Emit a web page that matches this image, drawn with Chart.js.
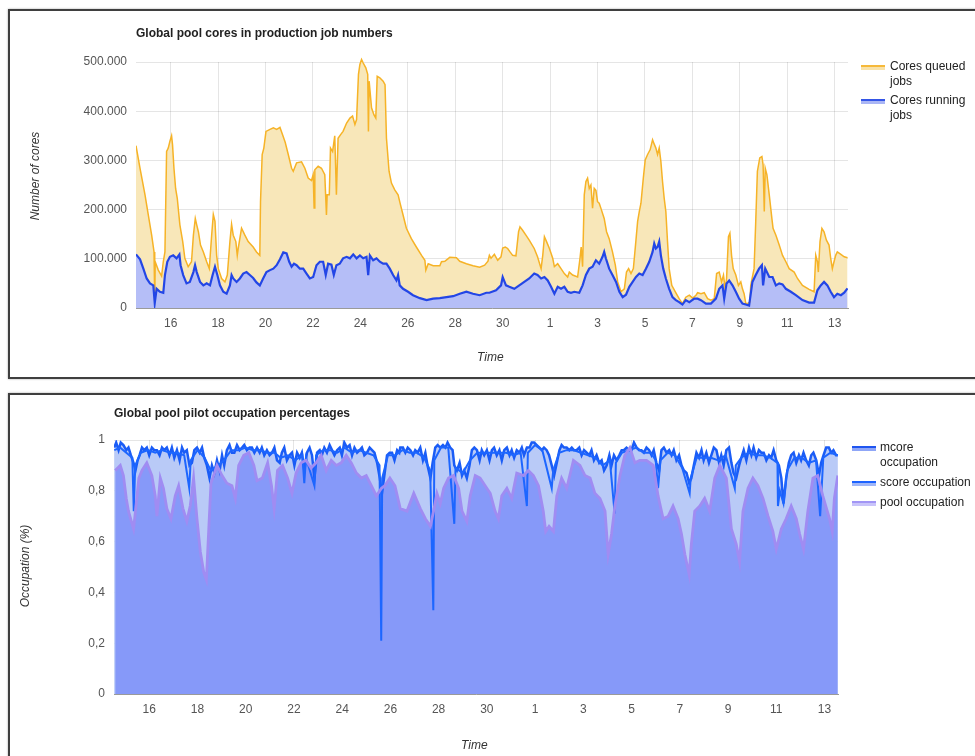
<!DOCTYPE html>
<html>
<head>
<meta charset="utf-8">
<script src="https://cdn.jsdelivr.net/npm/chart.js@4.4.0/dist/chart.umd.min.js"></script>
<style>
  body { margin: 0; width: 975px; height: 756px; overflow: hidden; background: #fff;
         font-family: Arial, "Liberation Sans", sans-serif; position: relative; }
  .panel { position: absolute; border: 2px solid #3f3f3f; box-shadow: 0 0 2px rgba(0,0,0,0.35); }
  canvas { position: absolute; }
  .txt { position: absolute; font-size: 12px; color: #222; white-space: nowrap; line-height: 15px; }
  .title { font-weight: bold; color: #222; }
  .axis { font-style: italic; color: #333; }
  .vert { transform: translate(-50%, -50%) rotate(-90deg); }
  .swatch { position: absolute; width: 24px; height: 3px; }
</style>
</head>
<body>
<div class="panel" style="left:8px; top:9px; width:1000px; height:366px;"></div>
<div class="panel" style="left:8px; top:393px; width:1000px; height:400px;"></div>

<canvas id="coresChart" width="960" height="366" style="left:10px; top:11px;"></canvas>
<canvas id="occChart" width="960" height="361" style="left:10px; top:395px;"></canvas>

<div class="txt title" style="left:136px; top:26px;">Global pool cores in production job numbers</div>
<div class="txt axis vert" style="left:35px; top:176px;">Number of cores</div>
<div class="txt axis" style="left:477px; top:350px;">Time</div>
<div class="swatch" style="left:861px; top:65px; border-top:2px solid #f6b93a; background:#f9e2a8;"></div>
<div class="txt" style="left:890px; top:59px;">Cores queued<br>jobs</div>
<div class="swatch" style="left:861px; top:99px; border-top:2px solid #3455e6; background:#aab6f5;"></div>
<div class="txt" style="left:890px; top:93px;">Cores running<br>jobs</div>

<div class="txt title" style="left:114px; top:406px;">Global pool pilot occupation percentages</div>
<div class="txt axis vert" style="left:25px; top:566px;">Occupation (%)</div>
<div class="txt axis" style="left:461px; top:738px;">Time</div>
<div class="swatch" style="left:852px; top:446px; border-top:2px solid #1f55f0; background:#8fa6f7;"></div>
<div class="txt" style="left:880px; top:440px;">mcore<br>occupation</div>
<div class="swatch" style="left:852px; top:481px; border-top:2px solid #1d63ff; background:#9fb6f8;"></div>
<div class="txt" style="left:880px; top:475px;">score occupation</div>
<div class="swatch" style="left:852px; top:501px; border-top:2px solid #a296f5; background:#c9c4fa;"></div>
<div class="txt" style="left:880px; top:495px;">pool occupation</div>

<script>
// x values are days counted from the 1st of the first month (32 = the 1st of the next one)
const dayTicks = [16, 18, 20, 22, 24, 26, 28, 30, 32, 34, 36, 38, 40, 42, 44];
const dayTickLabels = ['16', '18', '20', '22', '24', '26', '28', '30', '1', '3', '5', '7', '9', '11', '13'];

const coreTicks = [0, 100000, 200000, 300000, 400000, 500000];
const coreTickLabels = ['0', '100.000', '200.000', '300.000', '400.000', '500.000'];
const occTicks = [0, 0.2, 0.4, 0.6, 0.8, 1];
const occTickLabels = ['0', '0,2', '0,4', '0,6', '0,8', '1'];

const queuedDays = [14.54,14.71,14.92,15.06,15.20,15.30,15.33,15.35,15.48,15.62,15.69,15.76,15.83,15.90,15.97,16.04,16.08,16.14,16.21,16.28,16.39,16.51,16.60,16.74,16.88,16.96,17.04,17.10,17.17,17.26,17.38,17.52,17.63,17.73,17.80,17.87,17.94,18.01,18.15,18.29,18.39,18.50,18.57,18.64,18.75,18.81,18.85,18.99,19.13,19.27,19.48,19.62,19.76,19.79,19.86,19.93,20.02,20.19,20.33,20.47,20.61,20.72,20.83,20.96,21.10,21.17,21.31,21.52,21.66,21.80,21.94,22.01,22.05,22.08,22.22,22.36,22.50,22.57,22.60,22.69,22.74,22.83,22.92,22.99,23.06,23.16,23.27,23.42,23.56,23.67,23.77,23.84,23.92,23.98,24.05,24.12,24.23,24.31,24.34,24.37,24.47,24.57,24.65,24.71,24.82,24.96,25.04,25.10,25.21,25.31,25.45,25.59,25.69,25.80,25.94,26.15,26.36,26.58,26.72,26.76,26.86,27.07,27.35,27.42,27.56,27.77,28.05,28.19,28.47,28.75,29.03,29.24,29.38,29.44,29.51,29.65,29.79,29.93,30.00,30.11,30.21,30.31,30.42,30.56,30.67,30.73,30.84,30.98,31.12,31.33,31.47,31.62,31.69,31.76,31.85,31.97,32.11,32.18,32.32,32.46,32.60,32.74,32.81,32.95,33.16,33.26,33.31,33.37,33.44,33.51,33.58,33.65,33.72,33.79,33.86,33.93,34.00,34.07,34.14,34.28,34.38,34.49,34.63,34.75,34.85,34.99,35.13,35.22,35.31,35.41,35.51,35.62,35.69,35.76,35.83,35.93,36.01,36.11,36.22,36.32,36.39,36.46,36.53,36.60,36.67,36.74,36.81,36.88,36.95,37.02,37.13,37.28,37.44,37.58,37.72,37.87,38.01,38.15,38.22,38.36,38.50,38.64,38.78,38.92,39.02,39.13,39.23,39.31,39.38,39.44,39.52,39.58,39.65,39.72,39.83,39.94,40.04,40.11,40.18,40.25,40.32,40.42,40.46,40.53,40.60,40.67,40.74,40.84,40.93,40.98,41.03,41.07,41.14,41.24,41.35,41.40,41.52,41.66,41.80,41.94,42.08,42.29,42.43,42.64,42.92,43.13,43.20,43.27,43.31,43.38,43.46,43.55,43.65,43.76,43.83,43.90,43.97,44.04,44.11,44.26,44.40,44.54];
const queuedCores = [330000,284000,230000,189000,148000,114000,12000,94000,77000,65000,94000,114000,318000,325000,339000,350000,332000,284000,243000,223000,169000,135000,101000,84000,94000,148000,182000,169000,155000,128000,114000,94000,80000,148000,190000,176000,107000,80000,60000,53000,67000,135000,170000,148000,135000,107000,121000,162000,148000,135000,124000,114000,107000,216000,312000,325000,359000,363000,366000,363000,367000,352000,337000,312000,284000,278000,295000,297000,284000,264000,259000,271000,203000,281000,288000,284000,271000,189000,230000,230000,325000,318000,350000,230000,345000,352000,359000,376000,386000,390000,373000,383000,475000,495000,505000,498000,488000,475000,359000,461000,407000,393000,386000,471000,468000,461000,454000,345000,278000,254000,240000,230000,210000,189000,162000,141000,124000,107000,97000,77000,90000,86000,86000,94000,95000,103000,102000,95000,90000,86000,83000,87000,95000,107000,101000,109000,97000,104000,122000,124000,121000,114000,107000,106000,155000,165000,158000,148000,138000,121000,104000,80000,107000,145000,135000,121000,101000,84000,90000,80000,70000,63000,73000,67000,63000,101000,124000,84000,230000,257000,264000,243000,250000,203000,243000,239000,216000,213000,203000,182000,155000,141000,114000,87000,53000,33000,39000,73000,80000,70000,80000,138000,176000,196000,213000,264000,301000,312000,322000,342000,333000,325000,312000,325000,298000,257000,223000,196000,135000,80000,46000,33000,19000,9000,22000,26000,20000,26000,31000,29000,31000,19000,16000,19000,70000,73000,53000,67000,39000,60000,145000,152000,107000,80000,67000,46000,53000,39000,29000,9000,9000,12000,46000,63000,80000,176000,278000,305000,308000,291000,196000,284000,271000,230000,182000,162000,148000,128000,107000,94000,80000,73000,60000,46000,38000,33000,107000,94000,73000,135000,162000,155000,138000,128000,101000,80000,94000,107000,114000,109000,104000,102000];

const runningDays = [14.54,14.71,14.85,14.99,15.13,15.27,15.33,15.41,15.55,15.69,15.76,15.86,15.97,16.11,16.25,16.37,16.42,16.53,16.67,16.81,16.96,17.03,17.10,17.24,17.38,17.52,17.66,17.77,17.87,17.97,18.08,18.22,18.36,18.50,18.57,18.64,18.78,18.92,19.06,19.20,19.34,19.48,19.62,19.76,19.90,20.04,20.19,20.33,20.47,20.61,20.75,20.89,21.00,21.10,21.20,21.31,21.45,21.59,21.73,21.87,22.01,22.15,22.29,22.43,22.54,22.64,22.78,22.88,22.99,23.13,23.27,23.42,23.56,23.70,23.84,23.98,24.12,24.26,24.33,24.40,24.54,24.68,24.82,24.96,25.10,25.24,25.38,25.52,25.59,25.66,25.80,26.01,26.22,26.51,26.79,27.07,27.35,27.63,27.91,28.19,28.47,28.75,29.03,29.31,29.44,29.72,29.93,30.00,30.14,30.28,30.49,30.70,30.91,31.12,31.33,31.47,31.62,31.76,31.90,32.04,32.18,32.32,32.46,32.60,32.74,32.88,33.02,33.23,33.37,33.51,33.65,33.79,33.93,34.07,34.21,34.28,34.35,34.49,34.63,34.78,34.92,35.06,35.20,35.34,35.48,35.62,35.76,35.90,36.04,36.18,36.32,36.39,36.46,36.53,36.60,36.67,36.77,36.88,37.02,37.16,37.30,37.44,37.58,37.72,37.87,38.08,38.22,38.36,38.57,38.78,38.99,39.13,39.27,39.34,39.44,39.55,39.69,39.83,39.97,40.11,40.25,40.39,40.53,40.67,40.81,40.93,40.98,41.07,41.24,41.38,41.52,41.66,41.80,41.94,42.15,42.36,42.64,42.92,43.13,43.27,43.41,43.55,43.69,43.83,43.97,44.11,44.26,44.40,44.54];
const runningCores = [109000,99000,80000,60000,50000,46000,10000,39000,33000,31000,67000,94000,104000,107000,101000,109000,87000,67000,50000,53000,73000,87000,73000,53000,46000,50000,46000,67000,84000,67000,46000,33000,29000,46000,67000,60000,53000,60000,70000,73000,67000,61000,52000,46000,60000,73000,77000,80000,87000,99000,113000,111000,94000,84000,90000,87000,80000,80000,70000,60000,63000,87000,94000,94000,67000,90000,88000,67000,87000,90000,101000,104000,101000,109000,101000,107000,101000,104000,67000,107000,97000,101000,94000,90000,90000,80000,67000,56000,67000,46000,39000,33000,26000,20000,16000,19000,20000,22000,24000,29000,33000,29000,26000,31000,31000,36000,46000,63000,46000,43000,39000,46000,53000,60000,70000,67000,60000,63000,56000,43000,29000,43000,39000,43000,33000,31000,33000,31000,46000,67000,80000,84000,97000,90000,104000,114000,101000,80000,67000,53000,33000,22000,27000,43000,53000,63000,70000,67000,80000,94000,114000,131000,121000,124000,135000,107000,80000,60000,39000,22000,16000,12000,7000,16000,12000,19000,19000,16000,9000,9000,19000,39000,46000,19000,50000,56000,46000,33000,19000,9000,7000,5000,53000,67000,80000,87000,46000,80000,63000,63000,46000,50000,48000,39000,33000,26000,16000,11000,11000,36000,46000,53000,46000,33000,22000,29000,26000,31000,40000];

const mcoreDays = [14.55,14.63,14.73,14.82,14.93,15.05,15.14,15.24,15.35,15.43,15.52,15.60,15.70,15.79,15.90,16.00,16.11,16.21,16.32,16.43,16.53,16.62,16.73,16.84,16.94,17.04,17.15,17.26,17.36,17.45,17.56,17.67,17.77,17.87,17.98,18.09,18.19,18.28,18.39,18.50,18.60,18.70,18.81,18.92,19.02,19.11,19.22,19.33,19.43,19.53,19.64,19.75,19.85,19.94,20.05,20.16,20.26,20.36,20.47,20.58,20.67,20.77,20.88,20.99,21.09,21.19,21.30,21.41,21.50,21.60,21.71,21.82,21.92,22.02,22.13,22.24,22.33,22.43,22.54,22.65,22.75,22.85,22.96,23.07,23.16,23.26,23.37,23.48,23.58,23.68,23.79,23.90,23.99,24.09,24.20,24.31,24.41,24.51,24.62,24.73,24.82,24.92,25.03,25.14,25.24,25.34,25.45,25.56,25.65,25.75,25.86,25.97,26.07,26.17,26.28,26.37,26.41,26.52,26.62,26.72,26.83,26.94,27.03,27.13,27.24,27.35,27.45,27.54,27.66,27.75,27.86,27.96,28.07,28.18,28.28,28.37,28.48,28.58,28.65,28.76,28.87,28.97,29.06,29.17,29.28,29.38,29.48,29.59,29.70,29.79,29.89,30.00,30.11,30.21,30.30,30.41,30.52,30.62,30.72,30.83,30.94,31.03,31.13,31.24,31.35,31.45,31.54,31.66,31.77,31.86,31.96,32.07,32.18,32.28,32.37,32.48,32.58,32.69,32.79,32.90,33.01,33.10,33.20,33.31,33.42,33.52,33.61,33.72,33.83,33.93,34.03,34.14,34.25,34.34,34.44,34.55,34.66,34.76,34.86,34.97,35.08,35.17,35.27,35.38,35.49,35.59,35.68,35.79,35.90,36.00,36.10,36.21,36.32,36.41,36.51,36.62,36.73,36.83,36.92,37.03,37.14,37.24,37.34,37.45,37.56,37.66,37.75,37.86,37.97,38.07,38.17,38.28,38.39,38.48,38.58,38.69,38.80,38.90,38.99,39.10,39.21,39.31,39.41,39.52,39.63,39.72,39.82,39.93,40.04,40.14,40.23,40.34,40.46,40.55,40.65,40.76,40.87,40.97,41.06,41.17,41.28,41.38,41.48,41.59,41.70,41.79,41.89,42.00,42.11,42.21,42.30,42.41,42.52,42.62,42.72,42.83,42.94,43.03,43.13,43.24,43.35,43.45,43.54,43.66,43.77,43.86,43.96,44.07,44.18,44.28,44.37,44.48,44.55];
const mcoreOcc = [0.97,0.99,0.96,0.99,0.98,0.96,0.97,0.94,0.91,0.88,0.92,0.94,0.97,0.96,0.97,0.94,0.97,0.96,0.96,0.94,0.97,0.96,0.97,0.94,0.97,0.93,0.96,0.92,0.97,0.95,0.96,0.90,0.91,0.96,0.97,0.95,0.97,0.93,0.90,0.85,0.90,0.87,0.92,0.88,0.94,0.90,0.96,0.98,0.95,0.95,0.98,0.96,0.97,0.98,0.96,0.97,0.97,0.95,0.97,0.95,0.97,0.94,0.96,0.94,0.95,0.97,0.92,0.91,0.95,0.97,0.92,0.94,0.95,0.90,0.95,0.93,0.95,0.88,0.95,0.97,0.94,0.85,0.95,0.96,0.94,0.97,0.95,0.98,0.96,0.94,0.96,0.97,0.94,0.99,0.97,0.98,0.94,0.97,0.95,0.96,0.97,0.94,0.95,0.97,0.96,0.95,0.91,0.85,0.79,0.86,0.94,0.95,0.95,0.92,0.96,0.95,0.97,0.97,0.95,0.97,0.96,0.94,0.96,0.95,0.97,0.92,0.95,0.90,0.85,0.91,0.97,0.98,0.97,0.98,0.97,0.99,0.97,0.96,0.90,0.88,0.91,0.86,0.88,0.85,0.90,0.96,0.97,0.96,0.92,0.96,0.94,0.96,0.92,0.96,0.97,0.94,0.96,0.92,0.96,0.97,0.94,0.96,0.93,0.96,0.95,0.97,0.94,0.97,0.97,0.99,0.99,0.98,0.97,0.96,0.97,0.96,0.94,0.90,0.86,0.91,0.96,0.98,0.97,0.97,0.96,0.97,0.96,0.96,0.97,0.94,0.96,0.95,0.94,0.96,0.92,0.94,0.91,0.92,0.88,0.90,0.94,0.90,0.94,0.92,0.94,0.96,0.96,0.97,0.96,0.96,0.99,0.97,0.96,0.96,0.95,0.97,0.96,0.94,0.96,0.91,0.88,0.96,0.97,0.95,0.96,0.94,0.96,0.92,0.94,0.90,0.88,0.87,0.83,0.85,0.90,0.95,0.93,0.96,0.92,0.95,0.91,0.94,0.97,0.96,0.91,0.94,0.90,0.96,0.97,0.91,0.87,0.85,0.90,0.93,0.96,0.92,0.97,0.94,0.97,0.93,0.96,0.95,0.95,0.92,0.94,0.93,0.96,0.92,0.90,0.85,0.75,0.85,0.91,0.94,0.95,0.91,0.94,0.92,0.95,0.92,0.90,0.94,0.95,0.92,0.86,0.91,0.94,0.97,0.97,0.95,0.96,0.94,0.94];

const scoreDays = [14.55,14.80,15.05,15.30,15.36,15.42,15.65,15.95,16.25,16.55,16.85,17.15,17.45,17.66,17.72,18.00,18.30,18.55,18.85,19.10,19.40,19.70,20.00,20.30,20.60,20.90,21.20,21.45,21.75,22.05,22.35,22.43,22.50,22.85,22.92,23.20,23.50,23.80,24.10,24.40,24.70,25.00,25.30,25.55,25.62,25.66,25.90,26.20,26.50,26.80,27.10,27.40,27.65,27.78,27.82,28.10,28.40,28.65,28.70,29.00,29.30,29.60,29.90,30.20,30.50,30.80,31.10,31.40,31.66,31.70,32.00,32.30,32.69,32.75,33.00,33.30,33.60,33.90,34.20,34.50,34.80,35.10,35.30,35.35,35.60,35.90,36.20,36.50,36.80,37.00,37.10,37.20,37.50,37.80,38.10,38.41,38.45,38.70,39.00,39.30,39.60,39.90,40.28,40.32,40.55,40.85,41.15,41.45,41.75,42.05,42.07,42.15,42.30,42.45,42.75,43.05,43.35,43.65,43.82,43.95,44.25,44.55];
const scoreOcc = [0.96,0.97,0.95,0.93,0.72,0.90,0.95,0.96,0.95,0.96,0.95,0.95,0.94,0.81,0.92,0.96,0.93,0.88,0.90,0.92,0.96,0.96,0.97,0.96,0.96,0.95,0.95,0.93,0.94,0.92,0.94,0.83,0.93,0.82,0.94,0.96,0.96,0.95,0.97,0.95,0.96,0.95,0.94,0.90,0.21,0.85,0.94,0.94,0.96,0.95,0.95,0.93,0.88,0.33,0.92,0.97,0.97,0.67,0.89,0.87,0.92,0.95,0.95,0.95,0.95,0.95,0.94,0.95,0.74,0.95,0.98,0.96,0.81,0.88,0.95,0.96,0.96,0.95,0.94,0.93,0.90,0.92,0.71,0.91,0.95,0.96,0.97,0.95,0.95,0.92,0.81,0.92,0.95,0.94,0.89,0.79,0.85,0.93,0.93,0.93,0.92,0.94,0.81,0.90,0.93,0.95,0.94,0.94,0.93,0.91,0.74,0.80,0.75,0.88,0.93,0.93,0.91,0.92,0.70,0.93,0.95,0.94];

const poolDays = [14.59,14.80,14.93,15.05,15.14,15.35,15.43,15.57,15.70,15.90,16.11,16.25,16.32,16.46,16.59,16.73,16.90,17.08,17.22,17.40,17.56,17.70,17.84,17.98,18.12,18.26,18.37,18.47,18.56,18.67,18.81,19.02,19.22,19.43,19.57,19.71,19.92,20.13,20.34,20.47,20.69,20.91,21.07,21.18,21.32,21.53,21.74,21.92,22.09,22.30,22.50,22.71,22.92,23.13,23.34,23.55,23.76,23.96,24.17,24.38,24.59,24.80,25.00,25.21,25.42,25.63,25.77,25.98,26.19,26.41,26.69,26.97,27.24,27.45,27.66,27.79,27.93,28.07,28.21,28.41,28.62,28.83,28.97,29.17,29.31,29.52,29.72,29.93,30.14,30.34,30.48,30.62,30.83,31.03,31.24,31.52,31.72,31.93,32.14,32.34,32.44,32.58,32.76,32.90,33.10,33.31,33.59,33.86,34.07,34.28,34.48,34.69,34.90,35.03,35.17,35.31,35.52,35.72,35.93,36.14,36.34,36.62,36.90,37.10,37.31,37.52,37.72,37.93,38.07,38.21,38.30,38.39,38.48,38.62,38.83,39.03,39.24,39.45,39.66,39.93,40.14,40.34,40.48,40.62,40.83,41.03,41.24,41.45,41.66,41.86,42.00,42.21,42.41,42.62,42.83,42.97,43.13,43.31,43.52,43.72,43.93,44.21,44.32,44.41,44.55];
const poolOcc = [0.88,0.90,0.86,0.77,0.72,0.65,0.72,0.85,0.88,0.91,0.86,0.78,0.70,0.85,0.81,0.73,0.69,0.78,0.82,0.73,0.68,0.74,0.85,0.69,0.56,0.48,0.45,0.65,0.83,0.86,0.90,0.86,0.83,0.82,0.77,0.90,0.94,0.95,0.90,0.84,0.85,0.91,0.82,0.73,0.88,0.90,0.85,0.79,0.87,0.91,0.92,0.89,0.91,0.94,0.88,0.92,0.90,0.91,0.94,0.91,0.87,0.85,0.86,0.82,0.78,0.81,0.82,0.85,0.82,0.73,0.72,0.79,0.73,0.69,0.66,0.72,0.79,0.75,0.81,0.85,0.86,0.81,0.72,0.68,0.78,0.86,0.85,0.82,0.79,0.72,0.69,0.78,0.81,0.77,0.87,0.86,0.88,0.86,0.82,0.72,0.64,0.66,0.64,0.78,0.85,0.81,0.92,0.90,0.86,0.85,0.79,0.77,0.72,0.55,0.63,0.74,0.86,0.94,0.97,0.91,0.92,0.92,0.90,0.78,0.69,0.70,0.74,0.69,0.63,0.55,0.51,0.47,0.59,0.72,0.74,0.77,0.72,0.85,0.90,0.85,0.65,0.59,0.52,0.72,0.81,0.85,0.82,0.77,0.70,0.64,0.57,0.65,0.69,0.74,0.69,0.63,0.57,0.72,0.85,0.86,0.78,0.69,0.64,0.77,0.86];

const pts = (xs, ys) => xs.map((x, i) => ({ x: x, y: ys[i] }));

Chart.defaults.font.family = 'Arial, "Liberation Sans", sans-serif';
Chart.defaults.font.size = 12;
Chart.defaults.color = '#555';

const xAxis = (h) => ({
  type: 'linear',
  min: 14.54,
  max: 44.56,
  z: 1,
  afterBuildTicks: (s) => { s.ticks = dayTicks.map(v => ({ value: v })); },
  afterFit: (s) => { s.height = h; },
  grid: { color: 'rgba(0,0,0,0.1)', drawTicks: false },
  border: { color: '#9a9a9a' },
  ticks: { autoSkip: false, maxRotation: 0, padding: 8,
           callback: (v, i) => dayTickLabels[i] }
});

const yAxis = (w, vals, labels, max) => ({
  min: 0,
  max: max,
  z: 1,
  afterBuildTicks: (s) => { s.ticks = vals.map(v => ({ value: v })); },
  afterFit: (s) => { s.width = w; },
  grid: { color: 'rgba(0,0,0,0.1)', drawTicks: false },
  border: { display: false },
  ticks: { padding: 9, callback: (v, i) => labels[i] }
});

new Chart(document.getElementById('coresChart'), {
  type: 'line',
  data: {
    datasets: [
      {
        label: 'Cores running jobs',
        data: pts(runningDays, runningCores),
        borderColor: '#2346e6',
        backgroundColor: '#b5bef7',
        borderWidth: 2.2,
        fill: 'origin',
        clip: { left: 0, top: 6, right: 0, bottom: 0 }
      },
      {
        label: 'Cores queued jobs',
        data: pts(queuedDays, queuedCores),
        borderColor: '#f6b327',
        backgroundColor: '#f8e7b9',
        borderWidth: 1.5,
        fill: 'origin',
        clip: { left: 0, top: 6, right: 0, bottom: 0 }
      }
    ]
  },
  options: {
    responsive: false,
    animation: false,
    devicePixelRatio: 1,
    layout: { padding: { left: 0, top: 51, right: 122, bottom: 0 } },
    elements: { point: { radius: 0 }, line: { tension: 0 } },
    plugins: { legend: { display: false }, tooltip: { enabled: false },
               filler: { drawTime: 'beforeDatasetsDraw' } },
    scales: {
      x: xAxis(69),
      y: yAxis(126, coreTicks, coreTickLabels, 500000)
    }
  }
});

new Chart(document.getElementById('occChart'), {
  type: 'line',
  data: {
    datasets: [
      {
        label: 'mcore occupation',
        data: pts(mcoreDays, mcoreOcc),
        borderColor: '#1a5cf6',
        backgroundColor: '#b9caf7',
        borderWidth: 2.5,
        fill: 'origin',
        order: 2
      },
      {
        label: 'score occupation',
        data: pts(scoreDays, scoreOcc),
        borderColor: '#1d66ff',
        backgroundColor: '#b9caf7',
        borderWidth: 2,
        fill: 'origin',
        order: 1
      },
      {
        label: 'pool occupation',
        data: pts(poolDays, poolOcc),
        borderColor: '#a08cf2',
        backgroundColor: '#8699f9',
        borderWidth: 2.8,
        fill: 'origin',
        order: 0
      }
    ]
  },
  options: {
    responsive: false,
    animation: false,
    devicePixelRatio: 1,
    layout: { padding: { left: 0, top: 45, right: 132, bottom: 0 } },
    elements: { point: { radius: 0 }, line: { tension: 0 } },
    plugins: { legend: { display: false }, tooltip: { enabled: false },
               filler: { drawTime: 'beforeDatasetsDraw' } },
    scales: {
      x: xAxis(62),
      y: yAxis(104, occTicks, occTickLabels, 1)
    }
  }
});
</script>
</body>
</html>
